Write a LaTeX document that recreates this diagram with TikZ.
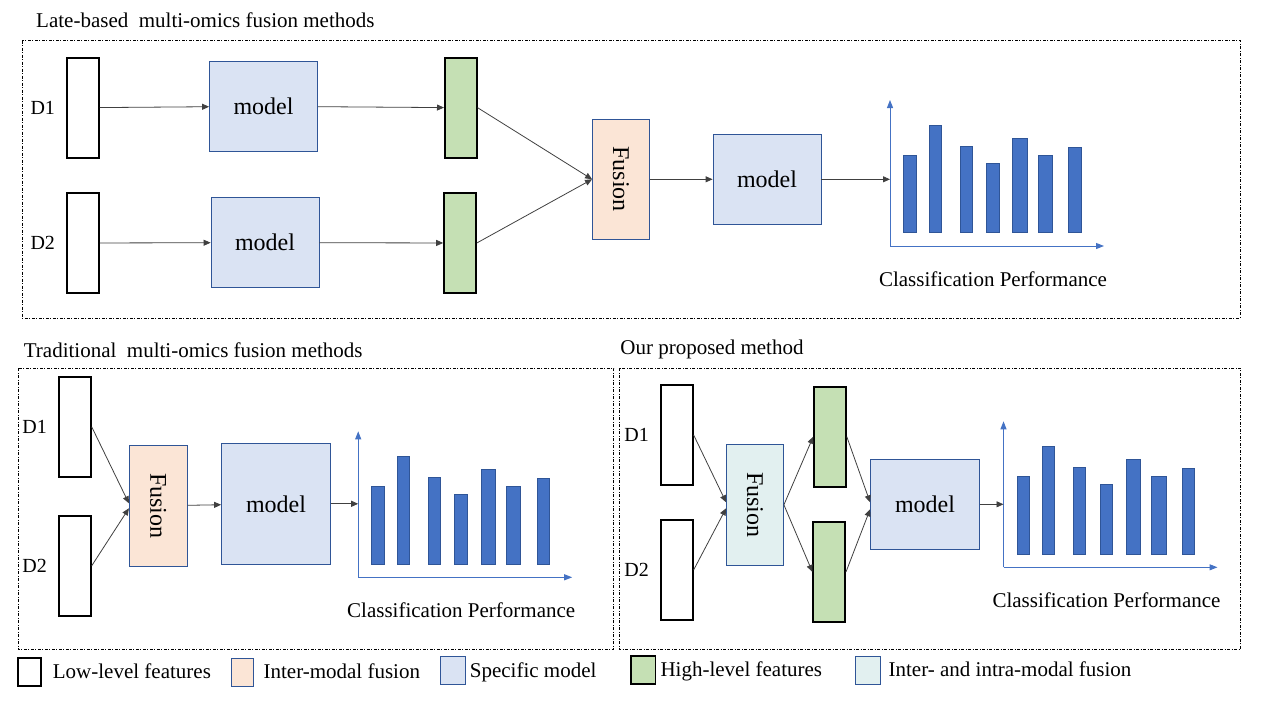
\documentclass[tikz,border=0pt]{standalone}
\usepackage{fontspec}
\setmainfont{Liberation Serif}
\usetikzlibrary{arrows.meta,positioning}

\definecolor{modfill}{HTML}{DAE3F3}
\definecolor{edgeblue}{HTML}{2F5597}
\definecolor{fusfill}{HTML}{FBE5D6}
\definecolor{highfill}{HTML}{C5E0B4}
\definecolor{mixfill}{HTML}{E2F0F0}
\definecolor{barblue}{HTML}{4472C4}
\definecolor{arrowgray}{HTML}{404040}

% bar chart: name, origin x, origin y
\newcommand{\perfchart}[3]{%
\begin{scope}[shift={(#2,#3)}]
\coordinate (#1) at (0,0);
\draw[axis] (0,0) -- (0,-146);
\draw[axis] (0,0) -- (214,0);
\foreach \dx/\w/\h in {13.5/12.5/77.5, 39/12/107.5, 70.2/12/86.5, 96.5/12.3/69.5,
                       122.6/14.3/94.5, 148.2/14.2/77.5, 178.6/12.3/85.5}
  \filldraw[fill=barblue, draw=edgeblue, line width=0.5pt] (\dx,-13.5) rectangle ++(\w,-\h);
\node[chartcap] (#1-cap) at (103,33) {Classification Performance};
\end{scope}}

\begin{document}
\begin{tikzpicture}[x=1pt,y=-1pt,
  lowbox/.style={draw=black, line width=1.6pt, fill=white, minimum width=32pt, minimum height=100pt, inner sep=0pt},
  highbox/.style={lowbox, fill=highfill},
  modbox/.style={draw=edgeblue, line width=0.8pt, fill=modfill, minimum width=108pt, minimum height=90pt, inner sep=0pt, font=\fontsize{24}{28}\selectfont},
  fusbox/.style={draw=edgeblue, line width=0.8pt, fill=fusfill, minimum width=57pt, minimum height=120pt, inner sep=0pt, font=\fontsize{24}{28}\selectfont},
  mixbox/.style={fusbox, fill=mixfill},
  dlabel/.style={inner sep=0pt, font=\fontsize{20}{24}\selectfont},
  title/.style={anchor=west, inner sep=0pt, font=\fontsize{21}{25}\selectfont},
  chartcap/.style={inner sep=0pt, font=\fontsize{21}{25}\selectfont},
  legtext/.style={inner sep=0pt, text height=14pt, text depth=1pt, font=\fontsize{21}{25}\selectfont},
  panel/.style={draw=black, line width=0.6pt, dash pattern=on 3pt off 1.5pt on 1pt off 1.5pt},
  link/.style={draw=arrowgray, line width=0.8pt, -{Triangle[length=7pt,width=6pt]}},
  axis/.style={draw=barblue, line width=1pt, -{Triangle[length=8pt,width=6pt]}}]
\useasboundingbox (0,0) rectangle (1280,720);

% late-based fusion
\node[title] (tLate) at (36,20) {Late-based\ \ multi-omics fusion methods};
\draw[panel] (22.4,40.5) rectangle (1240,318);
\node[lowbox] (lowA) at (83,107.7) {};
\node[lowbox] (lowB) at (83,243) {};
\node[dlabel, left=11pt of lowA] (dA) {D1};
\node[dlabel, left=11pt of lowB] (dB) {D2};
\node[modbox] (modA) at (263.5,106.3) {model};
\node[modbox] (modB) at (265,242.6) {model};
\node[highbox] (highA) at (460.8,107.7) {};
\node[highbox] (highB) at (460,243) {};
\node[fusbox] (fus) at (621,179.3) {\rotatebox{-90}{Fusion}};
\node[modbox] (modC) at (767,179.3) {model};
\perfchart{chA}{890}{246}
\draw[link] (lowA) -- (modA);
\draw[link] (modA) -- (highA);
\draw[link] (lowB) -- (modB);
\draw[link] (modB) -- (highB);
\draw[link] (highA.east) -- (fus.west);
\draw[link] (highB.east) -- (fus.west);
\draw[link] (fus) -- (modC);
\draw[link] (modC) -- (modC.east -| chA);

% traditional fusion
\node[title] (tTrad) at (23.7,350) {Traditional\ \ multi-omics fusion methods};
\draw[panel] (17.8,368.3) rectangle (613.7,649.3);
\node[lowbox] (lowC) at (74.9,426.8) {};
\node[lowbox] (lowD) at (74.9,565.8) {};
\node[dlabel, left=11pt of lowC] (dC) {D1};
\node[dlabel, left=11pt of lowD] (dD) {D2};
\node[fusbox, minimum width=58pt, minimum height=121pt] (fusL) at (158.3,505.8) {\rotatebox{-90}{Fusion}};
\node[modbox, minimum width=109pt, minimum height=121pt] (modL) at (276,503.8) {model};
\perfchart{chL}{358.2}{577.3}
\draw[link] (lowC.east) -- ([yshift=2.5pt]fusL.west);
\draw[link] (lowD.east) -- ([yshift=-2.5pt]fusL.west);
\draw[link] (fusL) -- (modL);
\draw[link] (modL) -- (modL.east -| chL);

% proposed method
\node[title] (tOur) at (620.2,349.3) {Our proposed method};
\draw[panel] (619,368.3) rectangle (1240.6,649.3);
\node[lowbox] (lowE) at (676.8,434.9) {};
\node[lowbox] (lowF) at (676.8,570) {};
\node[dlabel, left=11pt of lowE] (dE) {D1};
\node[dlabel, left=11pt of lowF] (dF) {D2};
\node[mixbox, minimum height=121pt] (fusR) at (755,504.8) {\rotatebox{-90}{Fusion}};
\node[highbox] (highC) at (830,436.7) {};
\node[highbox] (highD) at (829.2,571.9) {};
\node[modbox, minimum width=109pt] (modR) at (925,504.3) {model};
\perfchart{chR}{1003.5}{567.3}
\draw[link] (lowE.east) -- ([yshift=2.5pt]fusR.west);
\draw[link] (lowF.east) -- ([yshift=-3.5pt]fusR.west);
\draw[link] (fusR.east) -- (highC.west);
\draw[link] (fusR.east) -- (highD.west);
\draw[link] (highC.east) -- ([yshift=2pt]modR.west);
\draw[link] (highD.east) -- ([yshift=-5pt]modR.west);
\draw[link] (modR) -- (modR.east -| chR);

% legend
\node[lowbox, minimum width=23pt, minimum height=28pt] (kLow) at (29.4,672) {};
\node[legtext, right=11pt of kLow] (kLowT) {Low-level features};
\node[fusbox, minimum width=22pt, minimum height=28pt] (kInter) at (242,672) {};
\node[legtext, right=10pt of kInter] (kInterT) {Inter-modal fusion};
\node[modbox, minimum width=24.5pt, minimum height=27.6pt] (kSpec) at (453,670.5) {};
\node[legtext, right=4pt of kSpec] (kSpecT) {Specific model};
\node[highbox, minimum width=24.5pt, minimum height=28pt] (kHigh) at (643.3,670) {};
\node[legtext, right=4pt of kHigh] (kHighT) {High-level features};
\node[mixbox, minimum width=24.5pt, minimum height=28pt] (kMix) at (867.8,670) {};
\node[legtext, right=8pt of kMix] (kMixT) {Inter- and intra-modal fusion};
\end{tikzpicture}
\end{document}
